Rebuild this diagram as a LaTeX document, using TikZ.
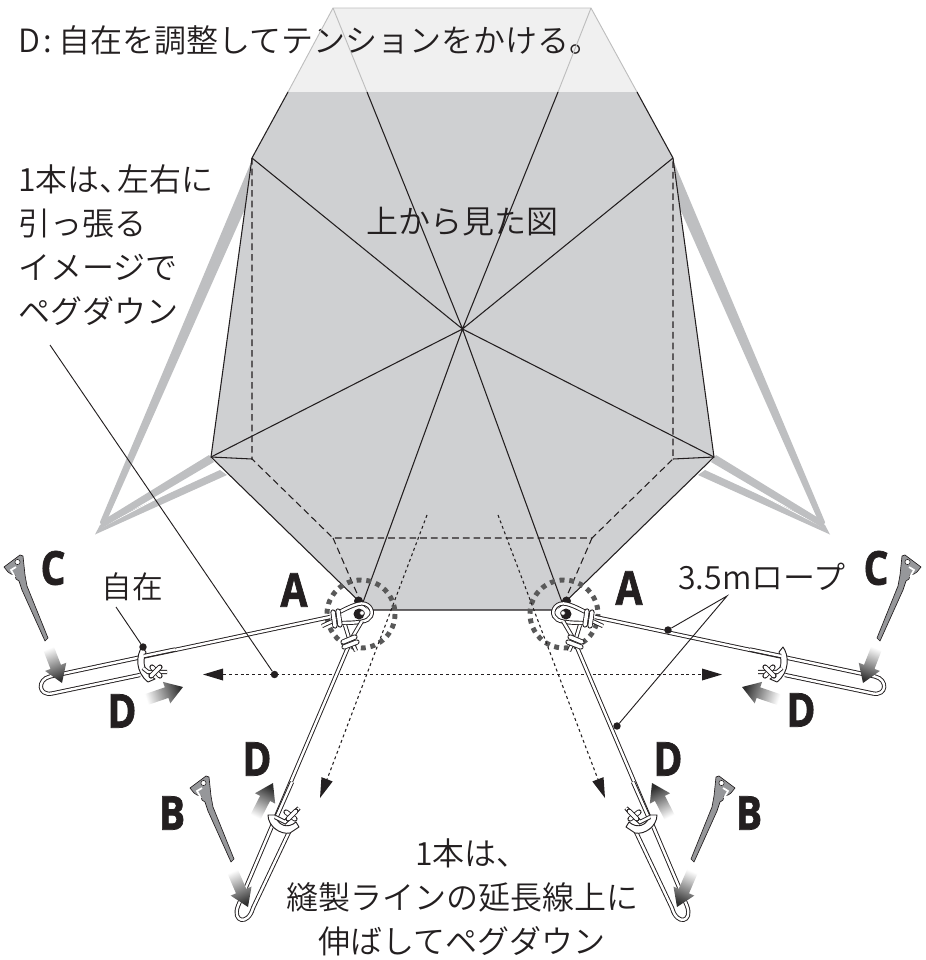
\documentclass[tikz,border=0pt]{standalone}
\usepackage{fontspec}
\usepackage{graphicx}
\setmainfont{Noto Sans CJK JP}[UprightFont={* DemiLight}]
\newfontfamily\heavyf{Open Sans}[UprightFont={* Bold},FakeBold=1.6]
\usetikzlibrary{arrows.meta,calc}
\definecolor{tent}{RGB}{207,208,210}
\definecolor{topf}{RGB}{240,240,240}
\definecolor{topl}{RGB}{190,190,190}
\definecolor{pole}{RGB}{190,191,193}
\definecolor{pegc}{RGB}{150,151,154}
\definecolor{ink}{RGB}{35,31,32}
\tikzset{
  lbl/.style={font=\fontsize{24}{33}\selectfont,inner sep=0pt,align=left,text=ink},
  big/.style={inner sep=0pt,text=ink},
  seam/.style={line width=0.8pt,draw=ink},
  hid/.style={line width=0.8pt,draw=ink,dash pattern=on 5pt off 3pt},
  dots/.style={line width=0.8pt,draw=ink,dash pattern=on 2.2pt off 2.2pt},
  ring/.style={line width=3.7pt,draw=black!65,dash pattern=on 3.7pt off 3.6pt},
  lead/.style={line width=0.7pt,draw=ink},
  dotend/.style={circle,fill=ink,inner sep=0pt,minimum size=5.6pt},
}
\newcommand{\biglet}[1]{\scalebox{0.84}[1]{\fontsize{35}{35}\selectfont\heavyf #1}}
\newcommand{\roped}[1]{\draw[line width=3.2pt,ink] #1; \draw[line width=1.8pt,white] #1;}
\newcommand{\ropew}[1]{\draw[line width=3.9pt,ink,line cap=round] #1; \draw[line width=2.6pt,white,line cap=round] #1;}
\newcommand{\pegshape}[2]{%
  \begin{scope}[shift={(#1,#2)}]
    \filldraw[fill=pegc,draw=ink,line width=0.5pt,line join=round]
      (4,567)--(20,555)--(23,556)--(25,575)--(27,586)--(48,638)--(45,641)--(22,590)--(19,581)--(16,579)--(15,575)--(11,574)--(8,572)--cycle;
    \draw[white,line width=1.3pt] (16,567)--(11,570)--(15,577);
    \filldraw[fill=white,draw=ink,line width=0.4pt] (17.5,562) circle[radius=2.6];
  \end{scope}}
\newcommand{\gradarrow}[4]{%
  \pgfmathsetmacro{\arang}{atan2(#2-#4,#3-#1)-90}%
  \coordinate (ta) at (#1,#2); \coordinate (he) at (#3,#4);
  \coordinate (ne) at ($(he)!13pt!(ta)$);
  \shade[bottom color=white,top color=black!82,shading angle=\arang]
    ($(ta)!4.2pt!90:(he)$) -- ($(ne)!4.2pt!90:(he)$) -- ($(ne)!8.5pt!90:(he)$) -- (he)
    -- ($(ne)!8.5pt!-90:(he)$) -- ($(ne)!4.2pt!-90:(he)$) -- ($(ta)!4.2pt!-90:(he)$) -- cycle;}
\newcommand{\halfpoles}{%
  \fill[pole] (100,522)--(252,160)--(260,175)--(108,518)--cycle;
  \fill[pole] (220,470)--(227,475)--(95,534.5)--(100,525)--cycle;
  \draw[white,line width=0.6pt] (220,466)--(102,527);
  \fill[pole] (209,455)--(100,522)--(102,528)--(214,462)--cycle;
}
\newcommand{\halfropes}{%
  \roped{(330,617)--(50,676.5) .. controls (37,679.5) and (38,696) .. (52,693.5)--(140,675)}
  \roped{(349,645)--(238,906) .. controls (232,922) and (248,926) .. (253,908)--(289,832)}
  \fill[ink] (358.5,601) circle[radius=4.5];
  \fill[white] (335,615)--(360,604)--(372,612)--(364,622)--(338,623)--cycle;
  \roped{(333,615) .. controls (342,611) and (350,606) .. (358,604) .. controls (368,601) and (374,610) .. (371,616) .. controls (368,622) and (360,623) .. (334,623)}
  \fill[ink] (359,614) circle[radius=5.5];
  \filldraw[fill=white,draw=ink,line width=0.5pt] (362,613) circle[radius=2.4];
  \roped{(362,621)--(352,638)}
  \roped{(345,625)--(349,638)}
  \roped{(337,619)--(322,626)}
  \ropew{(333,612)--(335,626)}
  \ropew{(338,611)--(340,625)}
  \roped{(351,640)--(356,651)}
  \ropew{(343,642)--(355,637)}
  \ropew{(344,647)--(357,642)}
  \filldraw[fill=white,draw=ink,line width=0.7pt,line join=round]
    (142,647) .. controls (136,655) and (135,672) .. (148,682) -- (155,679)
    .. controls (146,674) and (141,664) .. (146,652) -- cycle;
  \roped{(144,656)--(175,649.5)}
  \roped{(143,668)--(148,672)--(167,672)}
  \ropew{(152,667)--(160,676)}
  \ropew{(151,676)--(160,667)}
  \filldraw[fill=white,draw=ink,line width=0.7pt,line join=round]
    (268,815) .. controls (268,826) and (280,835) .. (290,833) -- (299,827) -- (296,822)
    .. controls (288,829) and (278,826) .. (275,815) -- cycle;
  \roped{(277,816)--(292,782)}
  \roped{(275,817)--(285,822)--(299,808)}
  \ropew{(286,812)--(295,819)}
  \ropew{(288,819)--(296,811)}
  \pegshape{0}{0}
  \pegshape{186}{221}
}
\begin{document}
\begin{tikzpicture}[x=0.75pt,y=-0.75pt]
\useasboundingbox (0,0) rectangle (925,960);
\coordinate (c) at (462.5,329);
\coordinate (t1) at (333,8); \coordinate (t2) at (591,8);
\coordinate (e1) at (288,92); \coordinate (e2) at (637,92);
\coordinate (s1) at (367,92); \coordinate (s2) at (558,92);
\coordinate (u1) at (252,158); \coordinate (u2) at (673,158);
\coordinate (l1) at (211,457); \coordinate (l2) at (714,457);
\coordinate (b1) at (362,605); \coordinate (b2) at (563,605);
\coordinate (f1) at (368,610); \coordinate (f2) at (557,610);
\coordinate (i1) at (252,459); \coordinate (i2) at (673,459);
\coordinate (k1) at (333,538); \coordinate (k2) at (592,538);
\halfpoles
\begin{scope}[shift={(925,0)},xscale=-1]\halfpoles\end{scope}
\fill[topf] (t1)--(t2)--(e2)--(e1)--cycle;
\fill[tent] (e1)--(u1)--(l1)--(f1)--(f2)--(l2)--(u2)--(e2)--cycle;
\node[lbl,anchor=west] (title) at (18,40) {D\hspace{2.5pt}:\hspace{5pt}自在を調整してテンションをかける。};
\draw[topl,line width=0.7pt] (e1)--(t1)--(t2)--(e2) (t1)--(s1) (t2)--(s2);
\draw[seam,line join=round] (e1)--(u1)--(l1)--(f1)--(f2)--(l2)--(u2)--(e2);
\draw[seam] (c)--(s1) (c)--(s2) (c)--(u1) (c)--(u2) (c)--(l1) (c)--(l2) (c)--(b1) (c)--(b2);
\draw[seam] (l1)--(i1) (l2)--(i2);
\draw[hid] (u1)--(i1)--(k1)--(k2)--(i2)--(u2);
\draw[hid] (k1)--(b1) (k2)--(b2);
\node[lbl,anchor=center] (topview) at (462.5,222) {上から見た図};
\draw[ring] (361,614) circle[radius=34];
\draw[ring] (564,614) circle[radius=34];
\coordinate (gl) at (203,674.5); \coordinate (gr) at (722,674.5);
\coordinate (d1s) at (427,515); \coordinate (d1e) at (320,798);
\coordinate (d2s) at (498,515); \coordinate (d2e) at (605,798);
\draw[dots] (223,674.5)--(702,674.5);
\fill[ink] (gl)--(223,668.5)--(223,680.5)--cycle;
\fill[ink] (gr)--(702,668.5)--(702,680.5)--cycle;
\draw[dots] (d1s)--($(d1e)!14pt!(d1s)$);
\draw[dots] (d2s)--($(d2e)!14pt!(d2s)$);
\coordinate (h1) at ($(d1e)!15pt!(d1s)$);
\coordinate (h2) at ($(d2e)!15pt!(d2s)$);
\fill[ink] (d1e)--($(h1)!4.5pt!90:(d1e)$)--($(h1)!4.5pt!-90:(d1e)$)--cycle;
\fill[ink] (d2e)--($(h2)!4.5pt!90:(d2e)$)--($(h2)!4.5pt!-90:(d2e)$)--cycle;
\halfropes
\begin{scope}[shift={(925,0)},xscale=-1]\halfropes\end{scope}
\gradarrow{48}{647}{62}{683}
\gradarrow{145}{700}{183}{687}
\gradarrow{255}{818}{273}{783}
\gradarrow{232}{870}{248}{907}
\gradarrow{877}{647}{863}{683}
\gradarrow{780}{700}{742}{687}
\gradarrow{670}{818}{652}{783}
\gradarrow{693}{870}{677}{907}
\node[lbl,anchor=north west] (note1) at (18,164) {1本は、\hspace{-0.45em}左右に\\引っ張る\\イメージで\\ペグダウン};
\coordinate (n1s) at (50,345);
\node[dotend] (n1e) at (274.5,674.5) {};
\draw[lead] (n1s)--(n1e);
\node[lbl,anchor=center,font=\fontsize{23}{30}\selectfont] (jizai) at (132,587) {自在};
\coordinate (jl) at (116,607);
\node[dotend] (jd) at (143,647) {};
\draw[lead] (jl)--(jd);
\node[lbl,anchor=center] (rope) at (762,577) {3.5mロープ};
\coordinate (rl) at (727,596);
\node[dotend] (rd1) at (668,630) {};
\node[dotend] (rd2) at (617,726) {};
\draw[lead] (rd1)--(rl)--(rd2);
\node[lbl,anchor=center,align=center] (note2) at (462,897) {\hspace{15pt}1本は、\\縫製ラインの延長線上に\\伸ばしてペグダウン};
\node[big] (la1) at (294,590) {\biglet{A}};
\node[big] (la2) at (629,588) {\biglet{A}};
\node[big] (lc1) at (53,568) {\biglet{C}};
\node[big] (lc2) at (876,568) {\biglet{C}};
\node[big] (ld1) at (122,711) {\biglet{D}};
\node[big] (ld2) at (801,710) {\biglet{D}};
\node[big] (ld3) at (257,759) {\biglet{D}};
\node[big] (ld4) at (668,759) {\biglet{D}};
\node[big] (lb1) at (172,813) {\biglet{B}};
\node[big] (lb2) at (749,813) {\biglet{B}};
\end{tikzpicture}
\end{document}
